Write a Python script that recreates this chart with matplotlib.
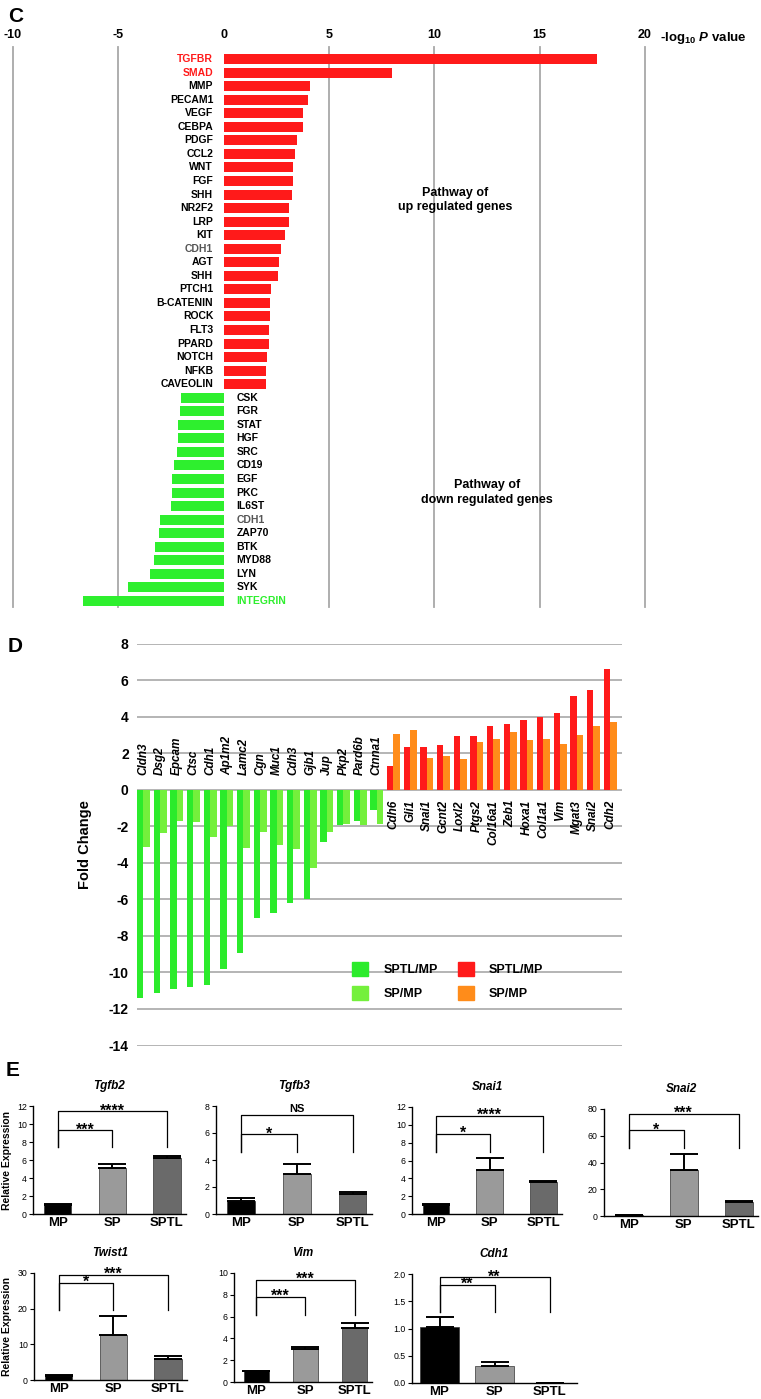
import numpy as np
import matplotlib
matplotlib.use('Agg')
import matplotlib.pyplot as plt
from matplotlib.patches import Patch
from matplotlib import font_manager

plt.rcParams['font.family'] = ['Liberation Sans', 'DejaVu Sans']
plt.rcParams['axes.unicode_minus'] = False
plt.rcParams['mathtext.fontset'] = 'custom'
plt.rcParams['mathtext.it'] = 'Liberation Sans:italic:bold'
plt.rcParams['mathtext.rm'] = 'Liberation Sans:bold'
plt.rcParams['mathtext.default'] = 'regular'

try:
    font_manager.findfont('Liberation Sans Narrow', fallback_to_default=False)
    NARROW = ['Liberation Sans Narrow', 'DejaVu Sans']
    nsize = 9
except Exception:
    NARROW = ['Liberation Sans', 'DejaVu Sans']
    nsize = 7.5

W, H = 761, 1399

# ---- panel C data: -log10 P value of pathways
up_genes = ['TGFBR', 'SMAD', 'MMP', 'PECAM1', 'VEGF', 'CEBPA', 'PDGF', 'CCL2', 'WNT', 'FGF',
            'SHH', 'NR2F2', 'LRP', 'KIT', 'CDH1', 'AGT', 'SHH', 'PTCH1', 'B-CATENIN', 'ROCK',
            'FLT3', 'PPARD', 'NOTCH', 'NFKB', 'CAVEOLIN']
up_logp = [17.7, 8.0, 4.1, 4.0, 3.75, 3.75, 3.5, 3.37, 3.3, 3.3,
           3.25, 3.1, 3.1, 2.93, 2.7, 2.63, 2.56, 2.27, 2.2, 2.2,
           2.14, 2.14, 2.08, 2.0, 2.0]
down_genes = ['CSK', 'FGR', 'STAT', 'HGF', 'SRC', 'CD19', 'EGF', 'PKC', 'IL6ST', 'CDH1',
              'ZAP70', 'BTK', 'MYD88', 'LYN', 'SYK', 'INTEGRIN']
down_logp = [-2.03, -2.06, -2.15, -2.18, -2.22, -2.36, -2.45, -2.47, -2.5, -3.02,
             -3.05, -3.24, -3.3, -3.49, -4.53, -6.66]
label_colors = {'TGFBR': '#FF1A1A', 'SMAD': '#FF1A1A', 'CDH1': '#555555', 'INTEGRIN': '#2EEF2E'}

# ---- panel D data: fold change
epi_genes = ['Cldn3', 'Dsg2', 'Epcam', 'Ctsc', 'Cdh1', 'Ap1m2', 'Lamc2', 'Cgn', 'Muc1', 'Cdh3',
             'Gjb1', 'Jup', 'Pkp2', 'Pard6b', 'Ctnna1']
epi_sptl = [-11.4, -11.15, -10.9, -10.8, -10.7, -9.8, -8.95, -7.0, -6.75, -6.2,
            -5.95, -2.85, -1.9, -1.7, -1.1]
epi_sp = [-3.1, -2.35, -1.7, -1.75, -2.55, -2.0, -3.2, -2.3, -3.0, -3.26,
          -4.3, -2.3, -1.85, -1.9, -1.85]
mes_genes = ['Cdh6', 'Gli1', 'Snai1', 'Gcnt2', 'Loxl2', 'Ptgs2', 'Col16a1', 'Zeb1', 'Hoxa1',
             'Col1a1', 'Vim', 'Mgat3', 'Snai2', 'Cdh2']
mes_sptl = [1.33, 2.36, 2.38, 2.45, 2.95, 2.98, 3.49, 3.6, 3.82, 4.0, 4.22, 5.13, 5.47, 6.62]
mes_sp = [3.09, 3.29, 1.75, 1.85, 1.71, 2.64, 2.82, 3.16, 2.75, 2.78, 2.53, 3.0, 3.49, 3.71]

# ---- panel E data: relative expression
groups = ['MP', 'SP', 'SPTL']
e_titles = ['Tgfb2', 'Tgfb3', 'Snai1', 'Snai2', 'Twist1', 'Vim', 'Cdh1']
e_means = [[1.0, 5.1, 6.2], [1.0, 3.0, 1.45], [1.0, 4.9, 3.6], [0.8, 34.5, 10.5],
           [1.0, 12.5, 6.0], [1.0, 3.05, 5.0], [1.02, 0.32, 0.0]]
e_errs = [[0.12, 0.5, 0.25], [0.2, 0.7, 0.15], [0.15, 1.4, 0.1], [0.3, 11.5, 1.0],
          [0.3, 5.5, 0.7], [0.05, 0.2, 0.4], [0.2, 0.06, 0.0]]
e_ymax = [12, 8, 12, 80, 30, 10, 2.0]
e_ystep = [2, 2, 2, 20, 10, 2, 0.5]
# bracket heights: MP-SP, MP-SPTL, drop level
e_brackets = [(9.3, 11.4, 7.4), (5.9, 7.3, 4.6), (9.0, 11.0, 6.9), (64, 76.5, 51),
              (27.2, 29.5, 19.7), (7.84, 9.4, 6.15), (1.8, 1.94, 1.31)]
e_stars = [('***', '****'), ('*', 'NS'), ('*', '****'), ('*', '***'),
           ('*', '***'), ('***', '***'), ('**', '**')]

fig = plt.figure(figsize=(W / 100, H / 100), dpi=100)


def px_axes(l, t, r, b):
    return fig.add_axes([l / W, 1 - b / H, (r - l) / W, (b - t) / H])


# ================= C =================
axc = px_axes(13, 47, 645, 607)
genes_c = up_genes + down_genes
vals_c = up_logp + down_logp
n_c = len(genes_c)
cols_c = ['#FF1A1A'] * len(up_genes) + ['#2EEF2E'] * len(down_genes)
axc.barh(np.arange(n_c), vals_c, height=0.74, color=cols_c, zorder=2)
axc.set_xlim(-10, 20)
axc.set_ylim(n_c - 1 + 0.45, -0.89)
for v in [-10, -5, 5, 10, 15, 20]:
    axc.axvline(v, color='#A8A8A8', lw=1.3, zorder=1, clip_on=False)
axc.xaxis.tick_top()
axc.set_xticks(range(-10, 21, 5))
axc.tick_params(axis='x', length=0, pad=4)
for lab in axc.get_xticklabels():
    lab.set_fontweight('bold')
    lab.set_family(NARROW)
    lab.set_fontsize(nsize + 1.5)
axc.set_yticks([])
for s in axc.spines.values():
    s.set_visible(False)
for i, (g, v) in enumerate(zip(genes_c, vals_c)):
    col = label_colors.get(g, 'black')
    if v > 0:
        axc.text(-0.5, i, g, ha='right', va='center', color=col, fontweight='bold',
                 family=NARROW, fontsize=nsize)
    else:
        axc.text(0.6, i, g, ha='left', va='center', color=col, fontweight='bold',
                 family=NARROW, fontsize=nsize)
axc.text(11.0, 10.4, 'Pathway of\nup regulated genes', ha='center', va='center',
         fontweight='bold', fontsize=9, linespacing=1.3)
axc.text(12.5, 32.0, 'Pathway of\ndown regulated genes', ha='center', va='center',
         fontweight='bold', fontsize=9, linespacing=1.3)
fig.text(660 / W, 1 - 38 / H, r'-log$_{10}$ $\mathit{P}$ value', ha='left', va='center',
         fontweight='bold', fontsize=9.5)

# ================= D =================
axd = px_axes(137, 644, 622, 1045.5)
n_epi = len(epi_genes)
xd = np.arange(n_epi + len(mes_genes))
bw = 0.39
axd.bar(xd[:n_epi] - bw / 2, epi_sptl, bw, color='#2BEB2B', zorder=2)
axd.bar(xd[:n_epi] + bw / 2, epi_sp, bw, color='#74F03C', zorder=2)
axd.bar(xd[n_epi:] - bw / 2, mes_sptl, bw, color='#FF1A1A', zorder=2)
axd.bar(xd[n_epi:] + bw / 2, mes_sp, bw, color='#FF8C1A', zorder=2)
axd.set_xlim(-0.39, 28.72)
axd.set_ylim(-14, 8)
axd.set_yticks(range(-14, 9, 2))
axd.set_xticks([])
axd.yaxis.grid(True, color='#A8A8A8', lw=1.2, zorder=0)
axd.set_axisbelow(True)
axd.tick_params(axis='y', length=0, pad=6, labelsize=10)
for lab in axd.get_yticklabels():
    lab.set_fontweight('bold')
for s in axd.spines.values():
    s.set_visible(False)
axd.set_ylabel('Fold Change', fontweight='bold', fontsize=10.5)
axd.yaxis.set_label_coords(-(137 - 92) / 485, 0.5)
for i, g in enumerate(epi_genes):
    axd.text(xd[i], 0.82, g, rotation=90, ha='center', va='bottom', fontweight='bold',
             fontstyle='italic', fontsize=8.5)
for i, g in enumerate(mes_genes):
    axd.text(xd[n_epi + i], -0.55, g, rotation=90, ha='center', va='top', fontweight='bold',
             fontstyle='italic', fontsize=8.5)
handles = [Patch(color='#2BEB2B', label='SPTL/MP'), Patch(color='#74F03C', label='SP/MP'),
           Patch(color='#FF1A1A', label='SPTL/MP'), Patch(color='#FF8C1A', label='SP/MP')]
fig.legend(handles=handles, ncol=2, loc='upper left', bbox_to_anchor=(352 / W, 1 - 962 / H),
           frameon=False, prop={'weight': 'bold', 'size': 9}, handlelength=1.3,
           handleheight=1.3, handletextpad=1.2, columnspacing=1.6, labelspacing=0.8,
           borderpad=0, borderaxespad=0)

# ================= E =================
e_rects = [(33, 1106, 186, 1214), (216, 1106, 372, 1214), (412, 1107, 562, 1214),
           (604, 1109, 758, 1216), (34, 1273, 187, 1380), (234, 1273, 372, 1382),
           (412, 1274, 577, 1383)]
bar_cols = ['#000000', '#9A9A9A', '#6A6A6A']
xe = np.arange(len(groups))


def mark(ax, txt, x, y):
    # stars sit high in the glyph box, so anchor them on the baseline
    if txt == 'NS':
        ax.annotate(txt, (x, y), xytext=(0, 2.5), textcoords='offset points', ha='center',
                    va='baseline', fontsize=8, fontweight='bold', annotation_clip=False)
    else:
        ax.annotate(txt, (x, y), xytext=(0, -3.0), textcoords='offset points', ha='center',
                    va='baseline', fontsize=11.5, fontweight='bold', annotation_clip=False)


for k in range(len(e_titles)):
    ax = px_axes(*e_rects[k])
    wide = e_titles[k] == 'Cdh1'
    width = 0.7 if wide else 0.5
    ax.bar(xe, e_means[k], width, color=bar_cols, edgecolor='#333333', lw=0.5, zorder=2)
    ax.errorbar(xe, e_means[k], yerr=[np.zeros(3), e_errs[k]], fmt='none', ecolor='black',
                elinewidth=1.4, capsize=10, capthick=1.4, zorder=3)
    if wide:
        ax.set_xlim(-0.5, 2.5)
    else:
        ax.set_xlim(-0.45, 2.35)
    ax.set_ylim(0, e_ymax[k])
    ax.set_yticks(np.arange(0, e_ymax[k] + 1e-6, e_ystep[k]))
    if e_ystep[k] < 1:
        ax.set_yticklabels(['%.1f' % t for t in ax.get_yticks()])
    ax.set_xticks(xe)
    ax.set_xticklabels(groups, fontweight='bold', fontsize=9.5)
    ax.tick_params(axis='x', length=0, pad=2)
    ax.tick_params(axis='y', length=3, width=0.8, labelsize=6.3, pad=1.5)
    for s in ['top', 'right']:
        ax.spines[s].set_visible(False)
    for s in ['left', 'bottom']:
        ax.spines[s].set_linewidth(1.0)
    ax.set_title(e_titles[k], fontweight='bold', fontstyle='italic', fontsize=8.5, pad=12)
    h1, h2, drop = e_brackets[k]
    ax.plot([0, 0, 1, 1], [drop, h1, h1, drop], color='black', lw=0.9, clip_on=False)
    ax.plot([0, 0, 2, 2], [drop, h2, h2, drop], color='black', lw=0.9, clip_on=False)
    s1, s2 = e_stars[k]
    mark(ax, s1, 0.5, h1)
    mark(ax, s2, 1.0, h2)
    if k in (0, 4):
        ax.set_ylabel('Relative Expression', fontweight='bold', fontsize=7.5)
        ax.yaxis.set_label_coords(-(e_rects[k][0] - 12) / (e_rects[k][2] - e_rects[k][0]), 0.5)

fig.text(8 / W, 1 - 16 / H, 'C', fontsize=15, fontweight='bold', va='center')
fig.text(8 / W, 1 - 646 / H, 'D', fontsize=15, fontweight='bold', va='center')
fig.text(6 / W, 1 - 1070 / H, 'E', fontsize=15, fontweight='bold', va='center')

fig.savefig('out.png', dpi=100)
